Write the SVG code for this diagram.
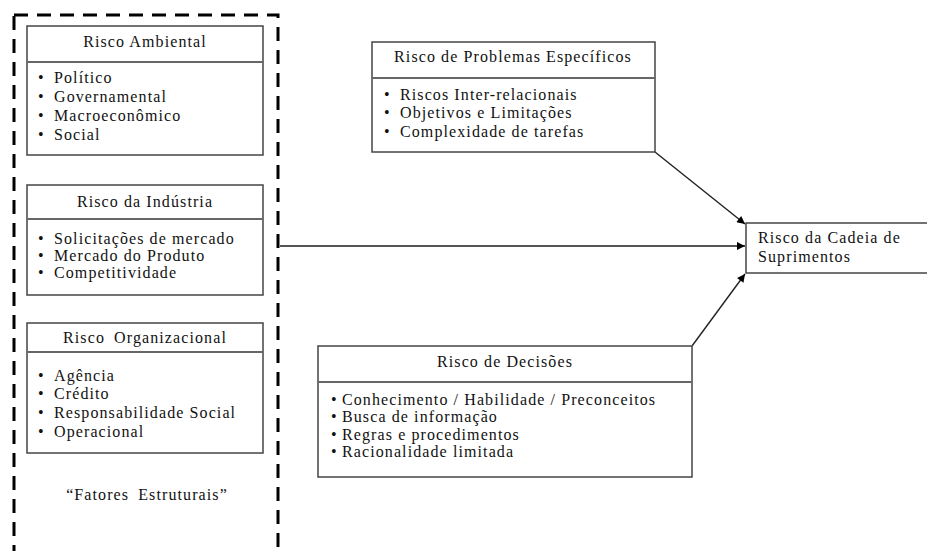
<svg xmlns="http://www.w3.org/2000/svg" width="927" height="551" viewBox="0 0 927 551">
  <style>
    text { font-family: "Liberation Serif", "Times New Roman", serif; font-size: 16px; fill: #111; letter-spacing: 1.1px; }
    .title { text-anchor: middle; }
    .box { fill: #fff; stroke: #444; stroke-width: 1.5; }
    .rule { stroke: #666; stroke-width: 2; }
    .edge { stroke: #222; stroke-width: 1.4; fill: none; marker-end: url(#arrow); }
    .edge-h { stroke: #555; stroke-width: 2; fill: none; marker-end: url(#arrow); }
    .frame { fill: none; stroke: #000; stroke-width: 3; stroke-dasharray: 14 9; }
  </style>
  <defs>
    <marker id="arrow" viewBox="0 0 10 10" refX="10" refY="5" markerWidth="10" markerHeight="8" markerUnits="userSpaceOnUse" orient="auto">
      <path d="M0,0 L10,5 L0,10 z" fill="#000"/>
    </marker>
  </defs>
  <rect width="927" height="551" fill="#fff"/>

  <!-- structural factors frame -->
  <rect class="frame" x="14" y="15" width="264" height="560"/>
  <text class="title" x="147" y="500" style="word-spacing:4px">“Fatores Estruturais”</text>

  <!-- connectors -->
  <g id="connectors">
    <line class="edge" x1="655" y1="152" x2="745" y2="224"/>
    <line class="edge-h" x1="280" y1="246" x2="745" y2="246"/>
    <line class="edge" x1="692" y1="346" x2="745" y2="274"/>
  </g>

  <g id="risco-ambiental">
    <rect class="box" x="27" y="26" width="236" height="129"/>
    <line class="rule" x1="27" y1="62" x2="263" y2="62"/>
    <text class="title" x="145" y="47">Risco Ambiental</text>
    <text x="38" y="83">•</text><text x="54" y="83">Político</text>
    <text x="38" y="102">•</text><text x="54" y="102">Governamental</text>
    <text x="38" y="121">•</text><text x="54" y="121">Macroeconômico</text>
    <text x="38" y="140">•</text><text x="54" y="140">Social</text>
  </g>

  <g id="risco-industria">
    <rect class="box" x="27" y="185" width="236" height="110"/>
    <line class="rule" x1="27" y1="219" x2="263" y2="219"/>
    <text class="title" x="145" y="207">Risco da Indústria</text>
    <text x="38" y="244">•</text><text x="54" y="244">Solicitações de mercado</text>
    <text x="38" y="261">•</text><text x="54" y="261">Mercado do Produto</text>
    <text x="38" y="278">•</text><text x="54" y="278">Competitividade</text>
  </g>

  <g id="risco-organizacional">
    <rect class="box" x="27" y="323" width="236" height="130"/>
    <line class="rule" x1="27" y1="352" x2="263" y2="352"/>
    <text class="title" x="145" y="343" style="word-spacing:4px">Risco Organizacional</text>
    <text x="38" y="381">•</text><text x="54" y="381">Agência</text>
    <text x="38" y="399">•</text><text x="54" y="399">Crédito</text>
    <text x="38" y="418">•</text><text x="54" y="418">Responsabilidade Social</text>
    <text x="38" y="437">•</text><text x="54" y="437">Operacional</text>
  </g>

  <g id="risco-problemas">
    <rect class="box" x="372" y="42" width="283" height="110"/>
    <line class="rule" x1="372" y1="78" x2="655" y2="78"/>
    <text class="title" x="513" y="62">Risco de Problemas Específicos</text>
    <text x="384" y="100">•</text><text x="400" y="100">Riscos Inter-relacionais</text>
    <text x="384" y="118">•</text><text x="400" y="118">Objetivos e Limitações</text>
    <text x="384" y="137">•</text><text x="400" y="137">Complexidade de tarefas</text>
  </g>

  <g id="risco-decisoes">
    <rect class="box" x="318" y="346" width="374" height="131"/>
    <line class="rule" x1="318" y1="382" x2="692" y2="382"/>
    <text class="title" x="505" y="367">Risco de Decisões</text>
    <text x="331" y="405">•</text><text x="342" y="405">Conhecimento / Habilidade / Preconceitos</text>
    <text x="331" y="422">•</text><text x="342" y="422">Busca de informação</text>
    <text x="331" y="440">•</text><text x="342" y="440">Regras e procedimentos</text>
    <text x="331" y="457">•</text><text x="342" y="457">Racionalidade limitada</text>
  </g>

  <g id="risco-cadeia">
    <rect class="box" x="746" y="223" width="200" height="50"/>
    <text x="758" y="243">Risco da Cadeia de</text>
    <text x="758" y="262">Suprimentos</text>
  </g>
</svg>
